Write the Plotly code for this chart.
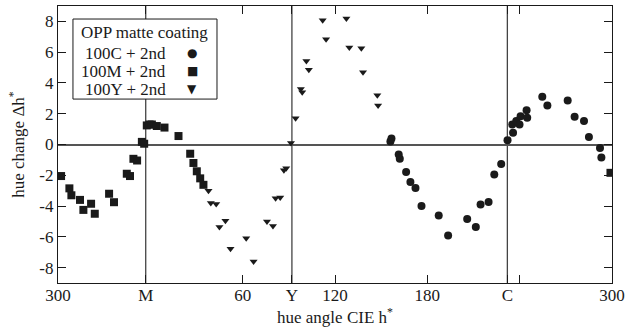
import plotly.graph_objects as go

# ---- data (hue angle CIE h* in degrees, hue change Δh*) ----
hue_C = [156.0, 156.7, 161.4, 162.1, 166.2, 169.0, 172.3, 176.2, 187.4, 193.5,
         205.9, 211.5, 214.6, 219.8, 223.5, 228.0, 232.1, 235.7, 235.2, 237.8,
         239.9, 240.6, 244.5, 244.9, 254.7, 258.0, 271.2, 275.7, 281.8, 285.0,
         292.2, 293.1]
dh_C = [0.2, 0.39, -0.65, -0.93, -1.78, -2.43, -2.82, -4.0, -4.62, -5.92,
        -4.84, -5.36, -3.9, -3.73, -1.95, -1.26, 0.28, 0.76, 1.3, 1.52,
        1.3, 1.84, 2.23, 1.74, 3.1, 2.54, 2.86, 1.8, 1.52, 0.48,
        -0.22, -0.85]

hue_M = [302.0, 307.4, 308.7, 314.3, 316.5, 321.5, 323.9, 333.2, 336.4, 344.7,
         346.8, 349.0, 351.4, 354.5, 356.0, 357.7, 359.5, 1.0, 4.2, 9.2,
         18.3, 25.9, 28.0, 30.2, 32.4, 34.5, 299.0]
dh_M = [-2.05, -2.85, -3.3, -3.6, -4.25, -3.85, -4.5, -3.2, -3.75, -1.9,
        -2.05, -0.93, -1.04, 0.17, 0.05, 1.24, 1.3, 1.3, 1.2, 1.1,
        0.55, -0.6, -1.2, -1.74, -2.2, -2.62, -1.84]

hue_Y = [37.8, 39.3, 42.8, 44.9, 48.8, 52.1, 62.3, 67.1, 75.8, 79.7,
         81.4, 84.4, 86.8, 88.3, 91.4, 94.4, 97.8, 98.7, 101.4, 103.0,
         112.0, 114.2, 127.4, 129.3, 137.1, 138.2, 147.5, 148.0]
dh_Y = [-3.0, -3.8, -3.86, -5.36, -4.95, -6.77, -6.1, -7.6, -5.0, -5.3,
        -3.5, -3.45, -1.67, -1.54, 0.1, 1.7, 3.6, 3.4, 5.42, 4.86,
        8.07, 6.84, 8.18, 6.3, 6.25, 4.7, 3.2, 2.54]

series_names = ["100C + 2nd", "100M + 2nd", "100Y + 2nd"]
series_glyphs = ["●", "■", "▼"]
legend_title = "OPP matte coating"

# hue of the primaries (marked by vertical lines)
primary_names = ["M", "Y", "C"]
primary_hues = [357, 92, 232]

# x axis is unwrapped: it runs from 300 through 360/0 round to 300 (=660)
x_tick_vals = [300, 357, 420, 452, 480, 540, 592, 600, 660]
x_tick_text = ["300", "M", "60", "Y", "120", "180", "C", "", "300"]
y_tick_vals = [-8, -6, -4, -2, 0, 2, 4, 6, 8]
y_tick_text = ["-8", "-6", "-4", "-2", "0", "2", "4", "6", "8"]


def unwrap(hues):
    return [h if h >= 300 else h + 360 for h in hues]


FONT = "Liberation Serif, Times New Roman, serif"
INK = "#1a1a1a"

fig = go.Figure()
for name, hx, dy, sym, size in [
    (series_names[0], hue_C, dh_C, "circle", 8),
    (series_names[1], hue_M, dh_M, "square", 8),
    (series_names[2], hue_Y, dh_Y, "triangle-down", 7),
]:
    fig.add_trace(go.Scatter(
        x=unwrap(hx), y=dy, mode="markers", name=name, showlegend=False,
        marker=dict(symbol=sym, size=size, color=INK, line=dict(width=0)),
    ))

for h in unwrap(primary_hues):
    fig.add_shape(type="line", xref="x", yref="paper", x0=h, x1=h, y0=0, y1=1,
                  line=dict(color="#444444", width=1.3), layer="below")

# legend box (text entries with the symbol to the right, as in the original)
fig.add_shape(type="rect", xref="paper", yref="paper",
              x0=0.027, x1=0.287, y0=0.664, y1=0.953,
              line=dict(color=INK, width=1), fillcolor="white", layer="above")
fig.add_annotation(text=legend_title, xref="paper", yref="paper", x=0.157, y=0.906,
                   showarrow=False, xanchor="center", yanchor="middle",
                   font=dict(size=17, family=FONT, color=INK))
for i, (nm, gl) in enumerate(zip(series_names, series_glyphs)):
    yy = 0.830 - i * 0.065
    fig.add_annotation(text=nm, xref="paper", yref="paper", x=0.199, y=yy,
                       showarrow=False, xanchor="right", yanchor="middle",
                       font=dict(size=17, family=FONT, color=INK))
    fig.add_annotation(text=gl, xref="paper", yref="paper", x=0.242, y=yy,
                       showarrow=False, xanchor="center", yanchor="middle",
                       font=dict(size=12, family="DejaVu Sans", color=INK))

fig.update_layout(
    width=627, height=327,
    margin=dict(l=58, r=15, t=6, b=44),
    paper_bgcolor="white", plot_bgcolor="white",
    font=dict(family=FONT, size=17, color=INK),
    showlegend=False,
    xaxis=dict(
        range=[300, 660], tickmode="array", tickvals=x_tick_vals, ticktext=x_tick_text,
        ticks="inside", ticklen=8, tickwidth=1.2, tickcolor=INK,
        showline=True, linecolor=INK, linewidth=1.3, mirror="ticks",
        showgrid=False, zeroline=False, automargin=False, ticklabelstandoff=-4,
        title=dict(text="hue angle CIE h<sup>*</sup>", standoff=2, font=dict(size=17)),
    ),
    yaxis=dict(
        range=[-9, 9], tickmode="array", tickvals=y_tick_vals, ticktext=y_tick_text,
        ticks="inside", ticklen=8, tickwidth=1.2, tickcolor=INK,
        showline=True, linecolor=INK, linewidth=1.3, mirror="ticks",
        showgrid=False, zeroline=True, zerolinecolor="#555555", zerolinewidth=1.5,
        automargin=False,
        title=dict(text="hue change Δh<sup>*</sup>", standoff=10, font=dict(size=17)),
    ),
)

fig.write_html("out.html", config={"displayModeBar": False},
               post_script="document.body.style.margin='0';document.body.style.overflow='hidden';")
